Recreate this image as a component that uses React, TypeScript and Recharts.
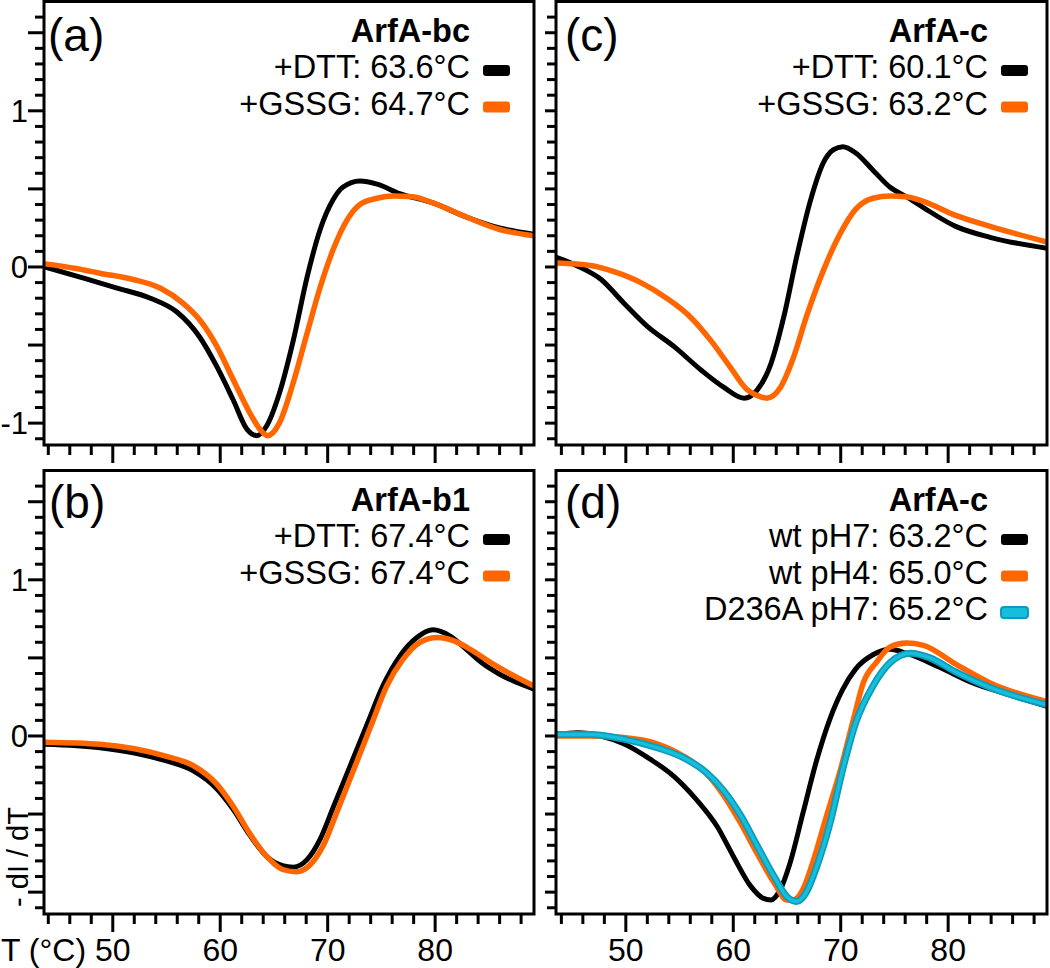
import React from 'react';
import { LineChart, Line, XAxis, YAxis } from 'recharts';

const FONT = '"Liberation Sans", Arial, Helvetica, sans-serif';

// axis ticks
const xTicks = [44, 46, 48, 50, 52, 54, 56, 58, 60, 62, 64, 66, 68, 70, 72, 74, 76, 78, 80, 82, 84, 86, 88];
const xLabels = [50, 60, 70, 80];
const yTicks = [-1.1, -1.0, -0.9, -0.8, -0.7, -0.6, -0.5, -0.4, -0.3, -0.2, -0.1, 0, 0.1, 0.2, 0.3, 0.4, 0.5, 0.6, 0.7, 0.8, 0.9, 1.0, 1.1, 1.2, 1.3, 1.4, 1.5, 1.6];
const yLabelsTop = [-1, 0, 1];
const yLabelsBottom = [0, 1];
const yDomain = [-1.14, 1.7];

// (a) ArfA-bc
const aDttT = [43.7, 47.2, 50.4, 53.5, 56.0, 58.1, 59.7, 61.2, 62.5, 63.4, 64.3, 65.5, 66.8, 68.1, 69.3, 70.5, 71.4, 73.0, 74.6, 76.7, 79.8, 82.9, 86.0, 89.2];
const aDttV = [0.0, -0.07, -0.135, -0.2, -0.29, -0.45, -0.64, -0.85, -1.04, -1.08, -1.02, -0.81, -0.47, -0.06, 0.24, 0.43, 0.51, 0.55, 0.53, 0.47, 0.41, 0.32, 0.25, 0.21];
const aGsT = [43.7, 46.6, 48.8, 51.9, 54.4, 56.5, 58.1, 59.7, 61.2, 62.8, 63.7, 64.4, 65.5, 66.8, 68.1, 69.3, 70.5, 71.8, 73.0, 74.6, 76.1, 77.9, 79.8, 82.9, 86.0, 89.2];
const aGsV = [0.02, -0.01, -0.04, -0.08, -0.135, -0.23, -0.34, -0.51, -0.72, -0.94, -1.04, -1.08, -1.0, -0.74, -0.42, -0.13, 0.11, 0.3, 0.4, 0.44, 0.455, 0.45, 0.41, 0.32, 0.24, 0.2];

// (b) ArfA-b1
const bDttT = [43.7, 48.8, 51.9, 55.0, 57.5, 59.7, 61.2, 62.8, 64.3, 65.8, 66.8, 68.1, 69.3, 70.5, 72.1, 73.7, 75.2, 76.7, 78.3, 79.8, 81.4, 82.9, 84.4, 86.0, 89.2];
const bDttV = [-0.053, -0.075, -0.107, -0.16, -0.224, -0.34, -0.47, -0.64, -0.77, -0.83, -0.84, -0.79, -0.66, -0.46, -0.19, 0.08, 0.33, 0.51, 0.63, 0.68, 0.64, 0.555, 0.465, 0.395, 0.3];
const bGsT = [43.7, 48.8, 51.9, 55.0, 57.5, 59.7, 61.2, 62.8, 64.3, 65.8, 67.1, 68.3, 69.6, 70.9, 72.4, 74.0, 75.5, 77.0, 78.6, 80.2, 81.7, 83.5, 85.4, 89.2];
const bGsV = [-0.04, -0.053, -0.08, -0.13, -0.19, -0.31, -0.45, -0.63, -0.77, -0.855, -0.87, -0.83, -0.7, -0.48, -0.22, 0.06, 0.32, 0.49, 0.6, 0.63, 0.61, 0.545, 0.46, 0.32];

// (c) ArfA-c
const cDttT = [43.6, 45.4, 47.7, 49.8, 52.0, 54.5, 57.0, 59.1, 61.0, 62.2, 63.5, 64.7, 65.9, 67.2, 68.4, 69.3, 70.2, 71.4, 73.0, 74.6, 76.1, 77.7, 80.7, 83.9, 89.2];
const cDttV = [0.06, 0.01, -0.08, -0.23, -0.38, -0.51, -0.66, -0.77, -0.84, -0.79, -0.62, -0.32, 0.065, 0.43, 0.67, 0.75, 0.77, 0.73, 0.62, 0.51, 0.45, 0.38, 0.26, 0.19, 0.12];
const cGsT = [43.6, 46.7, 48.9, 51.4, 53.8, 56.0, 57.9, 59.7, 61.2, 62.5, 63.1, 64.4, 65.6, 66.8, 68.4, 70.0, 71.4, 73.0, 74.6, 76.1, 77.7, 80.7, 83.9, 89.2];
const cGsV = [0.025, 0.01, -0.03, -0.1, -0.2, -0.32, -0.47, -0.64, -0.78, -0.83, -0.84, -0.77, -0.58, -0.32, -0.02, 0.22, 0.37, 0.44, 0.455, 0.45, 0.42, 0.33, 0.26, 0.16];

// (d) ArfA-c, pH / mutant
const dP7T = [43.6, 45.5, 47.7, 49.8, 52.3, 54.5, 56.6, 58.5, 60.0, 61.6, 62.8, 63.5, 64.4, 65.3, 66.5, 67.7, 69.0, 70.2, 71.4, 73.0, 74.6, 76.1, 79.2, 82.3, 85.4, 89.2];
const dP7V = [0.01, 0.02, 0.0, -0.05, -0.15, -0.26, -0.41, -0.58, -0.77, -0.96, -1.04, -1.05, -0.98, -0.81, -0.49, -0.17, 0.11, 0.3, 0.43, 0.52, 0.555, 0.53, 0.44, 0.34, 0.27, 0.19];
const dP4T = [43.6, 46.7, 49.8, 52.9, 55.4, 57.2, 59.1, 60.7, 62.2, 63.8, 65.0, 65.6, 66.5, 67.4, 68.6, 70.0, 71.2, 72.1, 73.3, 74.6, 76.1, 77.7, 80.7, 83.9, 89.2];
const dP4V = [0.0, 0.0, -0.01, -0.05, -0.13, -0.22, -0.38, -0.56, -0.75, -0.94, -1.05, -1.05, -0.98, -0.81, -0.53, -0.21, 0.11, 0.34, 0.47, 0.57, 0.595, 0.58, 0.46, 0.34, 0.22];
const dMutT = [43.6, 46.7, 49.8, 52.9, 55.4, 57.5, 59.1, 60.7, 62.2, 63.8, 65.0, 65.9, 66.8, 67.7, 69.0, 70.2, 71.4, 73.0, 74.6, 76.5, 78.3, 80.7, 83.9, 89.2];
const dMutV = [0.01, 0.01, -0.02, -0.075, -0.14, -0.235, -0.35, -0.51, -0.7, -0.9, -1.03, -1.06, -1.0, -0.85, -0.56, -0.21, 0.085, 0.32, 0.47, 0.53, 0.5, 0.41, 0.31, 0.2];

// legend texts
const titles = ['ArfA-bc', 'ArfA-b1', 'ArfA-c', 'ArfA-c'];
const legendA = ['+DTT: 63.6°C', '+GSSG: 64.7°C'];
const legendB = ['+DTT: 67.4°C', '+GSSG: 67.4°C'];
const legendC = ['+DTT: 60.1°C', '+GSSG: 63.2°C'];
const legendD = ['wt pH7: 63.2°C', 'wt pH4: 65.0°C', 'D236A pH7: 65.2°C'];

const BLACK = '#000000';
const ORANGE = '#ff6600';
const CYAN = '#17bedb';
const CYAN_EDGE = '#0b9cbc';

const rows = (t: number[], v: number[]) => t.map((x, i) => ({ t: x, v: v[i] }));

type Trace = { t: number[]; v: number[]; color: string; width: number };

const XTick = (props: any) => {
  const { x, y, payload, showLabel } = props;
  const major = xLabels.includes(payload.value);
  return (
    <g>
      <line x1={x} x2={x} y1={y} y2={y + (major ? 18 : 10)} stroke="#000" strokeWidth={3} />
      {showLabel && major && (
        <text x={x} y={y + 47} textAnchor="middle" fontSize={32} fontFamily={FONT} fill="#000">
          {payload.value}
        </text>
      )}
    </g>
  );
};

const YTick = (props: any) => {
  const { x, y, payload, labels } = props;
  const v = payload.value;
  const major = Math.abs(v * 2 - Math.round(v * 2)) < 1e-6;
  const labelled = labels.some((l: number) => Math.abs(l - v) < 1e-6);
  return (
    <g>
      <line x1={x} x2={x - (major ? 16 : 9)} y1={y} y2={y} stroke="#000" strokeWidth={3} />
      {labelled && (
        <text x={x - 16} y={y + 11} textAnchor="end" fontSize={31} fontFamily={FONT} fill="#000">
          {v === -1 ? '-1' : v}
        </text>
      )}
    </g>
  );
};

interface PanelProps {
  box: number[]; // chart left, top, width, height
  plot: number[]; // plot left, top, right, bottom
  domain: number[];
  traces: Trace[];
  showX: boolean;
  yLabels: number[];
  cyan?: { t: number[]; v: number[] };
}

const Panel: React.FC<PanelProps> = ({ box, plot, domain, traces, showX, yLabels, cyan }) => {
  const [cl, ct, cw, ch] = box;
  const [pl, pt, pr, pb] = plot;
  return (
    <div style={{ position: 'absolute', left: cl, top: ct }}>
      <LineChart
        width={cw}
        height={ch}
        margin={{ top: pt - ct, right: cl + cw - pr, bottom: 0, left: 0 }}
      >
        <XAxis
          type="number"
          dataKey="t"
          domain={domain}
          allowDataOverflow
          ticks={xTicks}
          interval={0}
          tickSize={0}
          tickMargin={0}
          axisLine={false}
          tickLine={false}
          height={ct + ch - pb}
          tick={(p: any) => <XTick {...p} showLabel={showX} />}
        />
        <YAxis
          type="number"
          dataKey="v"
          domain={yDomain}
          allowDataOverflow
          ticks={yTicks}
          interval={0}
          tickSize={0}
          tickMargin={0}
          axisLine={false}
          tickLine={false}
          width={pl - cl}
          tick={(p: any) => <YTick {...p} labels={yLabels} />}
        />
        {traces.map((tr, i) => (
          <Line
            key={i}
            data={rows(tr.t, tr.v)}
            dataKey="v"
            type="monotone"
            stroke={tr.color}
            strokeWidth={tr.width}
            strokeLinejoin="round"
            strokeLinecap="round"
            dot={false}
            activeDot={false}
            isAnimationActive={false}
          />
        ))}
        {cyan && (
          <Line
            data={rows(cyan.t, cyan.v)}
            dataKey="v"
            type="monotone"
            stroke={CYAN_EDGE}
            strokeWidth={7}
            dot={false}
            activeDot={false}
            isAnimationActive={false}
          />
        )}
        {cyan && (
          <Line
            data={rows(cyan.t, cyan.v)}
            dataKey="v"
            type="monotone"
            stroke={CYAN}
            strokeWidth={3.5}
            dot={false}
            activeDot={false}
            isAnimationActive={false}
          />
        )}
      </LineChart>
    </div>
  );
};

const Legend = ({ right, titleY, title, labels, colors }: any) => (
  <g>
    <text x={right} y={titleY} textAnchor="end" fontSize={32.5} fontWeight="bold" fill="#000">
      {title}
    </text>
    {labels.map((lab: string, i: number) => {
      const base = titleY + 36 + i * 36.5;
      return (
        <g key={i}>
          <text x={right} y={base} textAnchor="end" fontSize={32.5} fill="#000">
            {lab}
          </text>
          <rect
            x={right + 13}
            y={base - 7.5 - 5.5}
            width={27}
            height={11}
            rx={3}
            fill={colors[i]}
            stroke={colors[i] === CYAN ? CYAN_EDGE : 'none'}
            strokeWidth={2}
          />
        </g>
      );
    })}
  </g>
);

const plots = [
  [44, 1.5, 534, 445],
  [44, 470.5, 534, 914],
  [556, 1.5, 1047, 445],
  [556, 470.5, 1047, 914],
];

export default function App() {
  return (
    <div style={{ position: 'absolute', left: 0, top: 0, width: 1050, height: 968, background: '#fff', fontFamily: FONT }}>
      <Panel
        box={[0, 0, 545, 468]}
        plot={plots[0]}
        domain={[43.6, 89.2]}
        showX={false}
        yLabels={yLabelsTop}
        traces={[
          { t: aDttT, v: aDttV, color: BLACK, width: 5 },
          { t: aGsT, v: aGsV, color: ORANGE, width: 5.5 },
        ]}
      />
      <Panel
        box={[0, 468, 545, 500]}
        plot={plots[1]}
        domain={[43.6, 89.2]}
        showX={true}
        yLabels={yLabelsBottom}
        traces={[
          { t: bDttT, v: bDttV, color: BLACK, width: 5 },
          { t: bGsT, v: bGsV, color: ORANGE, width: 5.5 },
        ]}
      />
      <Panel
        box={[545, 0, 505, 468]}
        plot={plots[2]}
        domain={[43.5, 89.2]}
        showX={false}
        yLabels={[]}
        traces={[
          { t: cDttT, v: cDttV, color: BLACK, width: 5 },
          { t: cGsT, v: cGsV, color: ORANGE, width: 5.5 },
        ]}
      />
      <Panel
        box={[545, 468, 505, 500]}
        plot={plots[3]}
        domain={[43.5, 89.2]}
        showX={true}
        yLabels={[]}
        traces={[
          { t: dP7T, v: dP7V, color: BLACK, width: 5 },
          { t: dP4T, v: dP4V, color: ORANGE, width: 5.5 },
        ]}
        cyan={{ t: dMutT, v: dMutV }}
      />
      <svg
        width={1050}
        height={968}
        style={{ position: 'absolute', left: 0, top: 0, pointerEvents: 'none' }}
        fontFamily={FONT}
      >
        {plots.map((p, i) => (
          <rect key={i} x={p[0]} y={p[1]} width={p[2] - p[0]} height={p[3] - p[1]} fill="none" stroke="#000" strokeWidth={3} />
        ))}
        <text x={48} y={51} fontSize={46} fill="#000">(a)</text>
        <text x={49} y={518} fontSize={46} fill="#000">(b)</text>
        <text x={565} y={51} fontSize={46} fill="#000">(c)</text>
        <text x={565} y={518} fontSize={46} fill="#000">(d)</text>
        <Legend right={470} titleY={42} title={titles[0]} labels={legendA} colors={[BLACK, ORANGE]} />
        <Legend right={470} titleY={511} title={titles[1]} labels={legendB} colors={[BLACK, ORANGE]} />
        <Legend right={988} titleY={42} title={titles[2]} labels={legendC} colors={[BLACK, ORANGE]} />
        <Legend right={988} titleY={511} title={titles[3]} labels={legendD} colors={[BLACK, ORANGE, CYAN]} />
        <text x={1} y={961} fontSize={32} fill="#000">T (°C)</text>
        <text x={28} y={857} fontSize={29} fill="#000" textAnchor="middle" transform="rotate(-90 28 857)">
          - dI / dT
        </text>
      </svg>
    </div>
  );
}
